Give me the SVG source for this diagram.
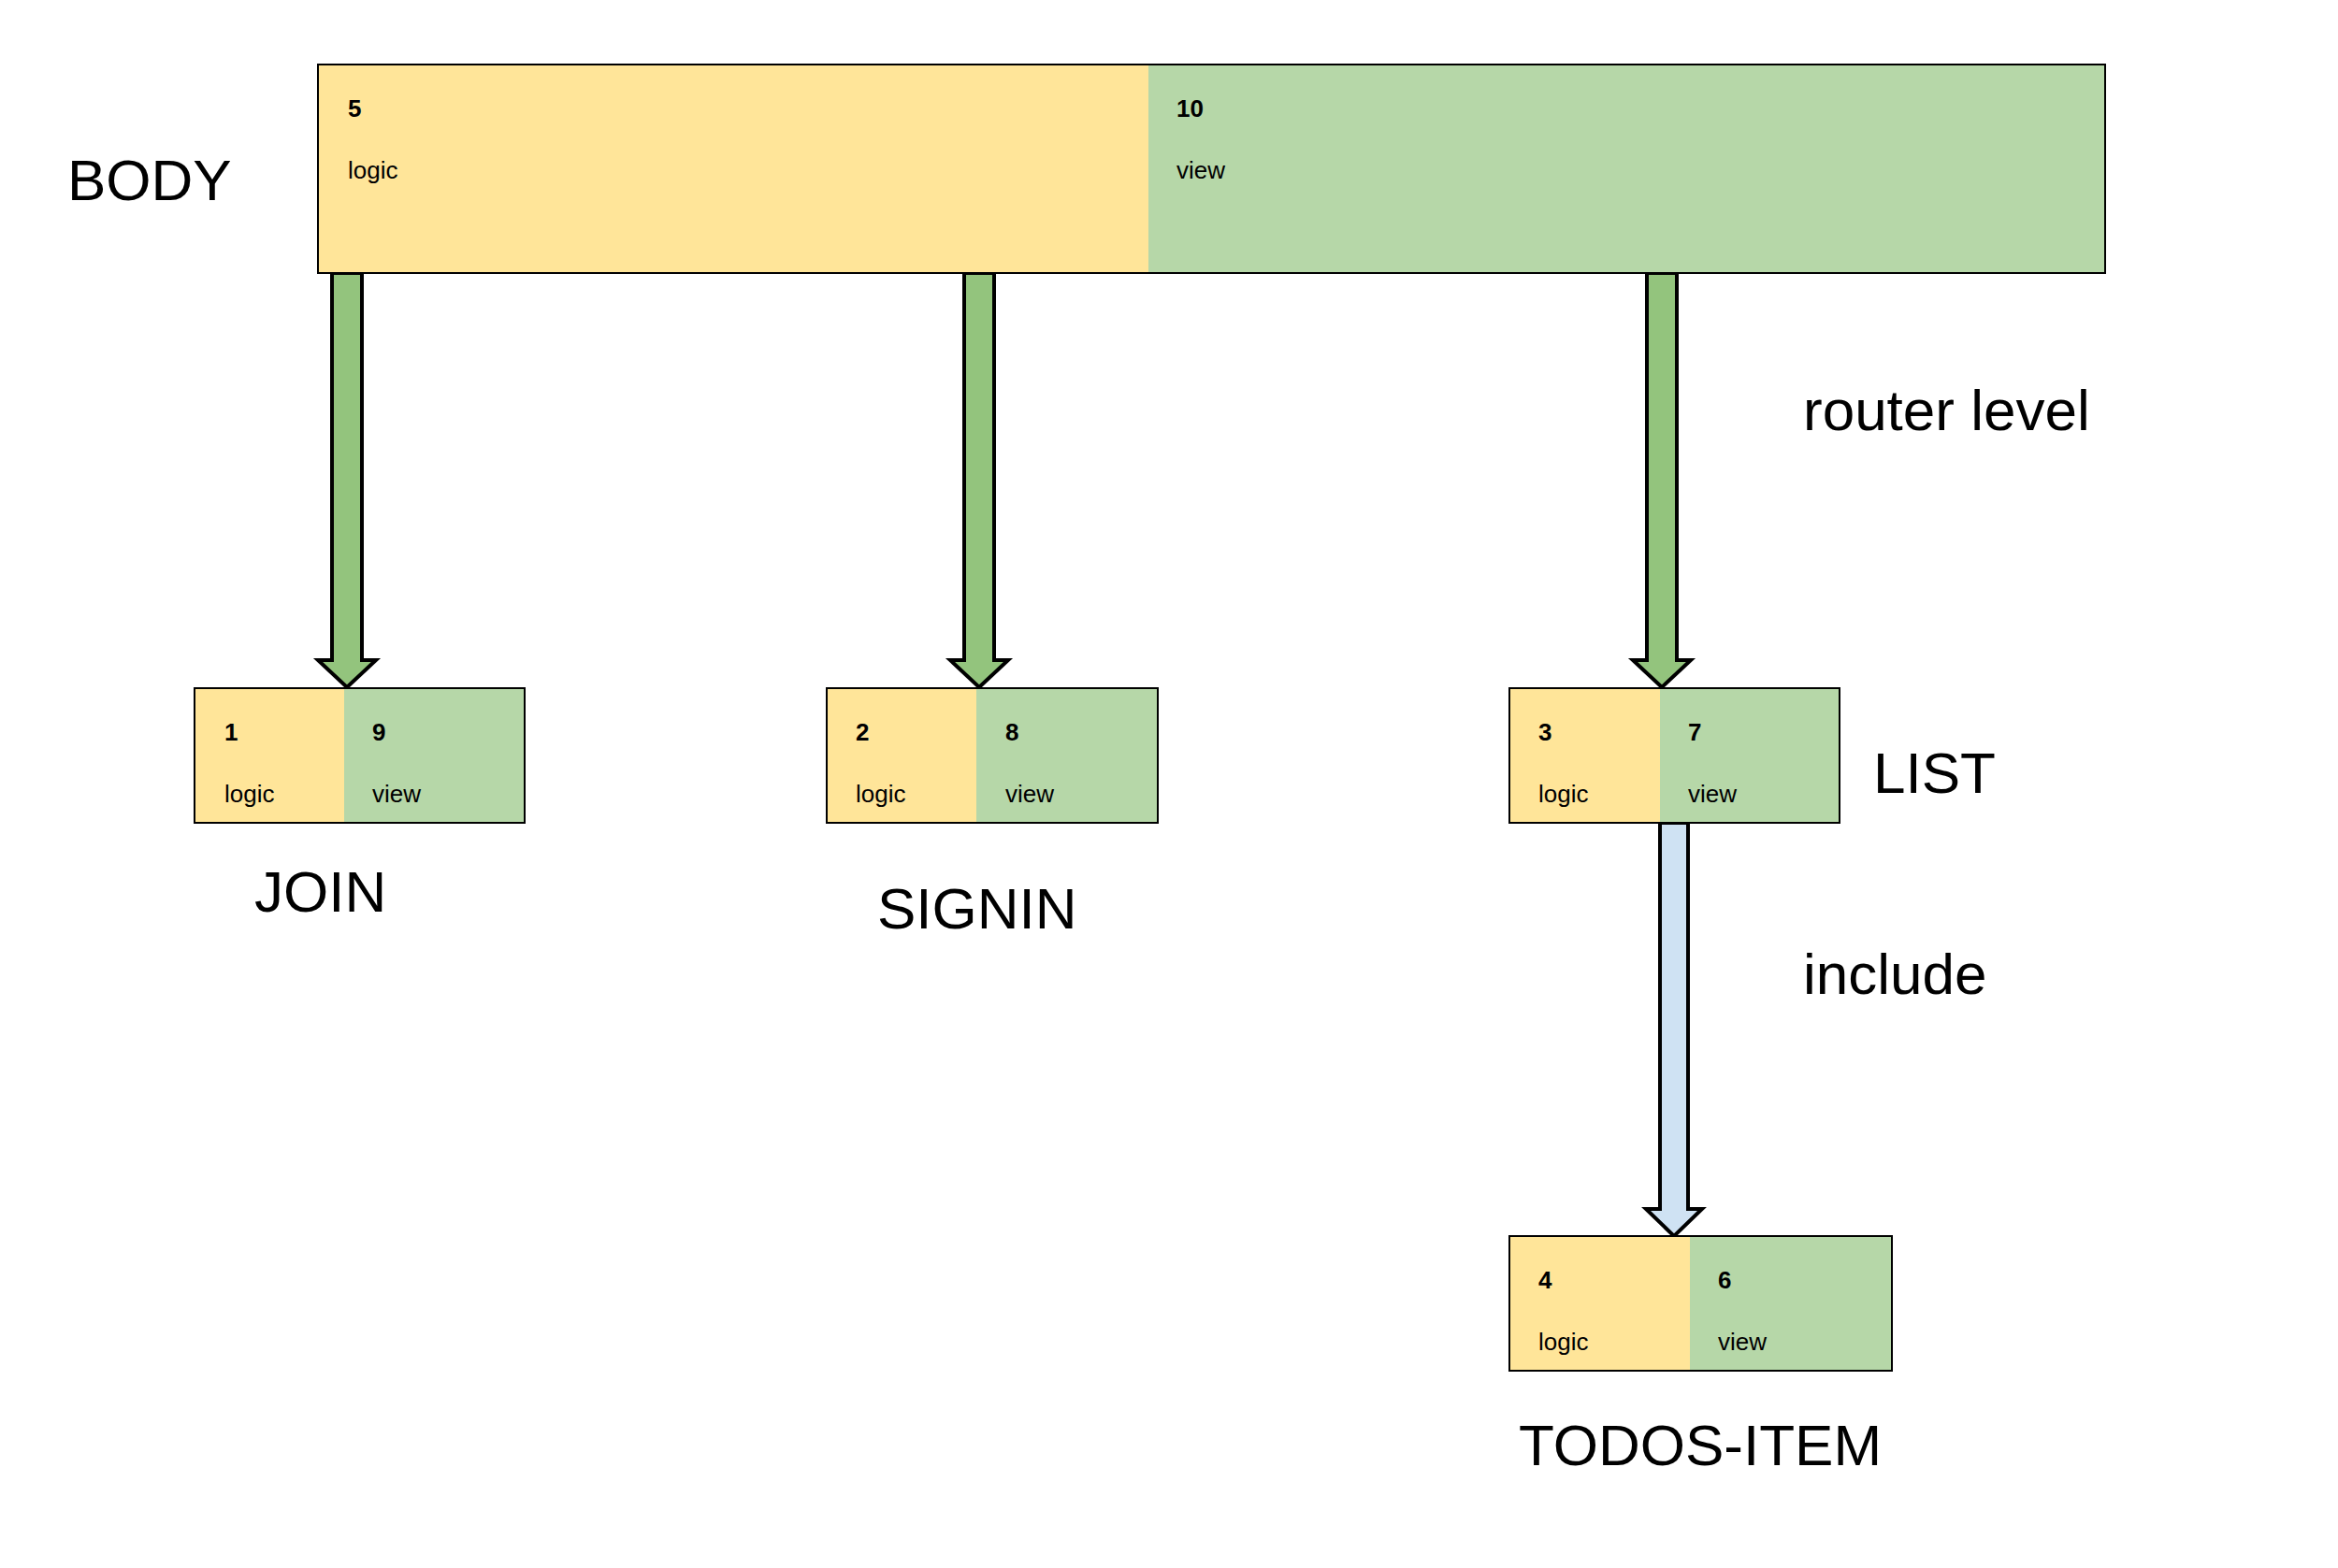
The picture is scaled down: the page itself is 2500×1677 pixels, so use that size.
<svg xmlns="http://www.w3.org/2000/svg" width="2500" height="1677" viewBox="0 0 2500 1677">
<style>
.logic{fill:#FFE599;stroke:none}
.view{fill:#B6D7A8;stroke:none}
.frame{fill:none;stroke:#000;stroke-width:2}
.num{font-family:"Liberation Sans",Arial,sans-serif;font-size:26px;font-weight:bold;fill:#000}
.lbl{font-family:"Liberation Sans",Arial,sans-serif;font-size:26px;fill:#000}
.big{font-family:"Liberation Sans",Arial,sans-serif;font-size:62px;fill:#000}
.arr-g{fill:#93C47D;stroke:#000;stroke-width:4;stroke-linejoin:miter}
.arr-b{fill:#CFE2F3;stroke:#000;stroke-width:4;stroke-linejoin:miter}
</style>
<rect width="2500" height="1677" fill="#fff"/>
<g id="connectors">
<path class="arr-g" d="M355,292 V706 H340 L371,735 L402,706 H387 V292 Z"/>
<path class="arr-g" d="M1031,292 V706 H1016 L1047,735 L1078,706 H1063 V292 Z"/>
<path class="arr-g" d="M1761,292 V706 H1746 L1777,735 L1808,706 H1793 V292 Z"/>
<path class="arr-b" d="M1775,880 V1293 H1760 L1790,1322 L1820,1293 H1805 V880 Z"/>
</g>
<g id="body">
<rect class="logic" x="340" y="69" width="888" height="223"/>
<rect class="view" x="1228" y="69" width="1023" height="223"/>
<rect class="frame" x="340" y="69" width="1911" height="223"/>
<text class="num" x="372" y="125">5</text>
<text class="lbl" x="372" y="191">logic</text>
<text class="num" x="1258" y="125">10</text>
<text class="lbl" x="1258" y="191">view</text>
</g>
<g id="join">
<rect class="logic" x="208" y="736" width="160" height="144"/>
<rect class="view" x="368" y="736" width="193" height="144"/>
<rect class="frame" x="208" y="736" width="353" height="144"/>
<text class="num" x="240" y="792">1</text>
<text class="lbl" x="240" y="858">logic</text>
<text class="num" x="398" y="792">9</text>
<text class="lbl" x="398" y="858">view</text>
</g>
<g id="signin">
<rect class="logic" x="884" y="736" width="160" height="144"/>
<rect class="view" x="1044" y="736" width="194" height="144"/>
<rect class="frame" x="884" y="736" width="354" height="144"/>
<text class="num" x="915" y="792">2</text>
<text class="lbl" x="915" y="858">logic</text>
<text class="num" x="1075" y="792">8</text>
<text class="lbl" x="1075" y="858">view</text>
</g>
<g id="list">
<rect class="logic" x="1614" y="736" width="161" height="144"/>
<rect class="view" x="1775" y="736" width="192" height="144"/>
<rect class="frame" x="1614" y="736" width="353" height="144"/>
<text class="num" x="1645" y="792">3</text>
<text class="lbl" x="1645" y="858">logic</text>
<text class="num" x="1805" y="792">7</text>
<text class="lbl" x="1805" y="858">view</text>
</g>
<g id="todos-item">
<rect class="logic" x="1614" y="1322" width="193" height="144"/>
<rect class="view" x="1807" y="1322" width="216" height="144"/>
<rect class="frame" x="1614" y="1322" width="409" height="144"/>
<text class="num" x="1645" y="1378">4</text>
<text class="lbl" x="1645" y="1444">logic</text>
<text class="num" x="1837" y="1378">6</text>
<text class="lbl" x="1837" y="1444">view</text>
</g>
<g id="labels">
<text class="big" x="72" y="214">BODY</text>
<text class="big" x="1928" y="460">router level</text>
<text class="big" x="272" y="975">JOIN</text>
<text class="big" x="938" y="993">SIGNIN</text>
<text class="big" x="2003" y="848">LIST</text>
<text class="big" x="1928" y="1063">include</text>
<text class="big" x="1624" y="1567">TODOS-ITEM</text>
</g>
</svg>
